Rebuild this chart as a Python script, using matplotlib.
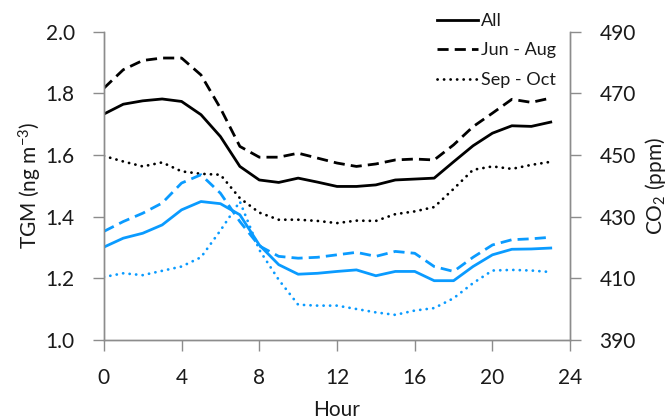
import matplotlib
matplotlib.use('Agg')
import matplotlib.pyplot as plt

plt.rcParams['font.family'] = ['Lato', 'DejaVu Sans']
plt.rcParams['mathtext.fontset'] = 'custom'
plt.rcParams['mathtext.rm'] = 'Lato'
plt.rcParams['mathtext.it'] = 'Lato:italic'

# Data (hourly means)
hours = list(range(24))

# TGM (ng m-3), left axis
tgm_all = [1.733, 1.765, 1.776, 1.782, 1.774, 1.731, 1.660, 1.563, 1.519, 1.511, 1.525, 1.512,
           1.498, 1.498, 1.503, 1.519, 1.522, 1.525, 1.578, 1.630, 1.671, 1.695, 1.693, 1.707]
tgm_jja = [1.817, 1.877, 1.907, 1.915, 1.915, 1.860, 1.752, 1.628, 1.593, 1.593, 1.606, 1.590,
           1.574, 1.563, 1.571, 1.584, 1.587, 1.584, 1.633, 1.692, 1.736, 1.781, 1.771, 1.785]
tgm_so = [1.597, 1.579, 1.563, 1.576, 1.547, 1.539, 1.536, 1.460, 1.413, 1.390, 1.390, 1.386,
          1.379, 1.387, 1.386, 1.408, 1.417, 1.431, 1.490, 1.552, 1.563, 1.555, 1.568, 1.578]

# CO2 (ppm), right axis
co2_all = [420.1, 423.0, 424.6, 427.3, 432.2, 434.9, 434.2, 430.6, 420.8, 414.4, 411.3, 411.6,
           412.2, 412.7, 410.8, 412.2, 412.2, 409.2, 409.2, 413.8, 417.6, 419.4, 419.5, 419.8]
co2_jja = [425.2, 428.4, 431.1, 434.4, 440.9, 443.6, 437.6, 428.4, 420.5, 417.1, 416.5, 416.8,
           417.6, 418.4, 417.1, 418.7, 418.1, 413.8, 412.2, 416.8, 420.8, 422.5, 422.8, 423.3]
co2_so = [410.4, 411.6, 411.0, 412.4, 413.8, 416.8, 425.5, 434.9, 419.2, 409.5, 401.4, 401.1,
          401.1, 400.0, 398.9, 398.1, 399.5, 400.3, 403.5, 408.4, 412.5, 412.7, 412.5, 412.0]

blue = '#0a9bff'
grey = '#8c8c8c'
txt = '#1a1a1a'
dashed = (0, (4, 2.2))
dotted = (0, (0.05, 2.3))

fig = plt.figure(figsize=(6.7, 4.19), dpi=100)
ax = fig.add_axes([0.155, 0.189, 0.696, 0.735])
ax2 = ax.twinx()

l1, = ax.plot(hours, tgm_all, color='black', lw=2.0, label='All')
l2, = ax.plot(hours, tgm_jja, color='black', lw=2.0, ls=dashed, label='Jun - Aug')
l3, = ax.plot(hours, tgm_so, color='black', lw=2.0, ls=dotted,
              dash_capstyle='round', label='Sep - Oct')

ax2.plot(hours, co2_all, color=blue, lw=2.0)
ax2.plot(hours, co2_jja, color=blue, lw=2.0, ls=dashed)
ax2.plot(hours, co2_so, color=blue, lw=2.0, ls=dotted, dash_capstyle='round')

ax.set_xlim(0, 24)
ax.set_ylim(1.0, 2.0)
ax2.set_ylim(390, 490)
ax.set_xticks(range(0, 25, 4))
ax.set_yticks([1.0, 1.2, 1.4, 1.6, 1.8, 2.0])
ax.set_yticklabels(['1.0', '1.2', '1.4', '1.6', '1.8', '2.0'])
ax2.set_yticks(range(390, 491, 20))

for a in (ax, ax2):
    a.spines['top'].set_visible(False)
    for s in ('left', 'right', 'bottom'):
        a.spines[s].set_color(grey)
        a.spines[s].set_linewidth(1.0)
    a.tick_params(direction='out', length=8, width=1.0, color=grey,
                  labelsize=15, labelcolor=txt, pad=13)
ax.tick_params(axis='x', pad=12)

ax.set_xlabel('Hour', fontsize=15, color=txt, labelpad=9)
ax.set_ylabel('TGM (ng m$^{\\mathrm{-3}}$)', fontsize=15, color=txt, labelpad=1)
ax2.set_ylabel('CO$_2$ (ppm)', fontsize=15, color=txt, labelpad=5)

fig.legend(handles=[l1, l2, l3], loc='upper left', bbox_to_anchor=(0.636, 0.995),
           frameon=False, fontsize=13, handlelength=2.3, handletextpad=0.15,
           labelspacing=0.75, borderaxespad=0.2, labelcolor=txt)

fig.savefig('out.png', dpi=100)
